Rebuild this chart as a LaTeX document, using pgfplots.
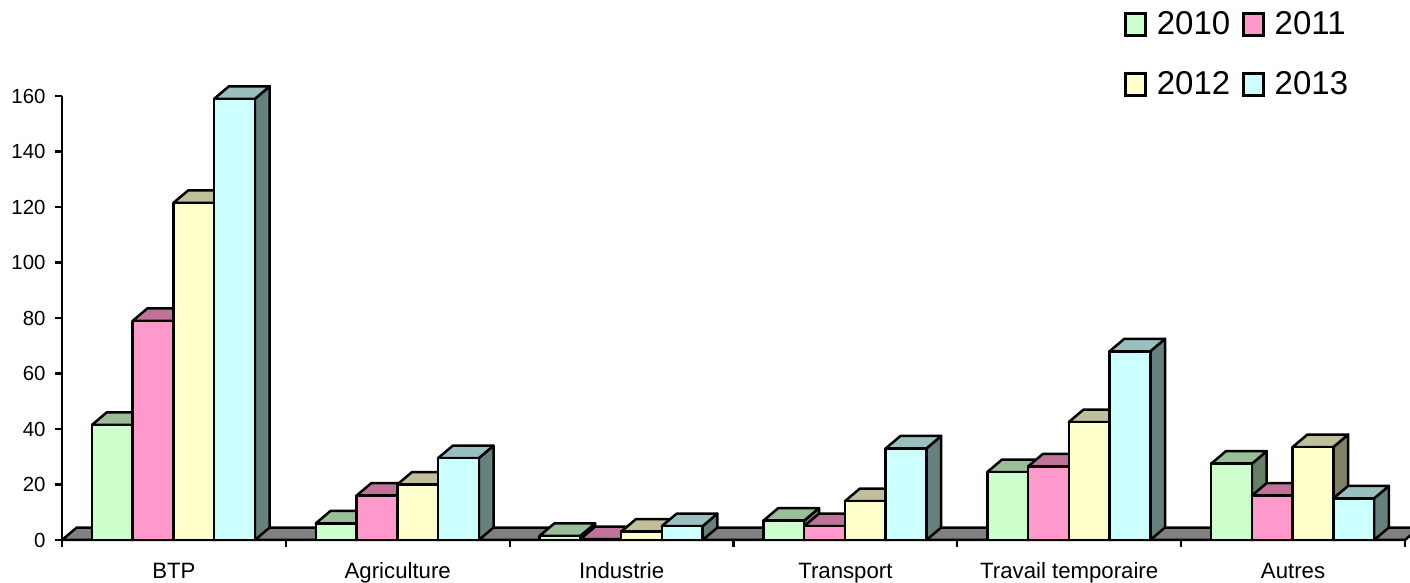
\documentclass[border=0pt]{standalone}
\usepackage{pgfplots}
\pgfplotsset{compat=1.18}
\usepackage{fontspec}
\setmainfont{Liberation Sans}

% Series colours: front face, top face (darkened), side face (darkened further)
\definecolor{s0}{HTML}{CCFFCC}\definecolor{s0top}{HTML}{99BF99}\definecolor{s0side}{HTML}{668066}
\definecolor{s1}{HTML}{FF99CC}\definecolor{s1top}{HTML}{BF7399}\definecolor{s1side}{HTML}{804D66}
\definecolor{s2}{HTML}{FFFFCC}\definecolor{s2top}{HTML}{BFBF99}\definecolor{s2side}{HTML}{808066}
\definecolor{s3}{HTML}{CCFFFF}\definecolor{s3top}{HTML}{99BFBF}\definecolor{s3side}{HTML}{668080}
\definecolor{floorgray}{HTML}{808080}

% Geometry of the extruded columns, in axis units
\def\barw{0.182}  % column width
\def\baroff{0.134}% gap before the first column of a category
\def\depx{0.066}  % horizontal depth offset
\def\depy{4.5}    % vertical depth offset

\pgfplotsset{face/.style={forget plot, draw=black, line width=1.25pt, line join=round}}

% Draws one column: side, then top, then front
\newcommand{\drawbar}[3]{% category, series, value
  \pgfmathsetmacro{\xa}{#1+\baroff+#2*\barw}
  \pgfmathsetmacro{\xb}{\xa+\barw}
  \pgfmathsetmacro{\xc}{\xa+\depx}
  \pgfmathsetmacro{\xd}{\xb+\depx}
  \pgfmathsetmacro{\yt}{#3+\depy}
  \edef\temp{\noexpand\addplot[face, fill=s#2side] coordinates {(\xb,0) (\xb,#3) (\xd,\yt) (\xd,\depy)} --cycle;
    \noexpand\addplot[face, fill=s#2top] coordinates {(\xa,#3) (\xb,#3) (\xd,\yt) (\xc,\yt)} --cycle;
    \noexpand\addplot[face, fill=s#2] coordinates {(\xa,0) (\xb,0) (\xb,#3) (\xa,#3)} --cycle;}
  \temp
}
\newcommand{\drawgroup}[5]{% category, then the values of 2010 to 2013
  \drawbar{#1}{0}{#2}\drawbar{#1}{1}{#3}\drawbar{#1}{2}{#4}\drawbar{#1}{3}{#5}
}

\begin{document}
\begin{tikzpicture}
\path[use as bounding box] (-31pt,-21.5pt) rectangle (674pt,270pt);
\begin{axis}[
  anchor=origin, at={(0pt,0pt)},
  scale only axis, width=671.5pt, height=222pt,
  xmin=0, xmax=6, ymin=0, ymax=160,
  clip=false,
  axis x line*=bottom, axis y line*=left,
  axis line style={-, line width=1.1pt, black},
  every tick/.style={black, line width=1.1pt},
  tick align=outside, major tick length=3.5pt,
  xtick={0,1,2,3,4,5,6}, xticklabels={},
  extra x ticks={0.5,1.5,2.5,3.5,4.5,5.5},
  extra x tick labels={BTP,Agriculture,Industrie,Transport,Travail temporaire,Autres},
  extra x tick style={major tick length=0pt, tick style={draw=none}},
  xticklabel style={font=\fontsize{11.1}{13}\selectfont, text height=8.2pt, text depth=2.5pt, yshift=-7.5pt},
  ytick={0,20,40,60,80,100,120,140,160},
  yticklabel style={font=\fontsize{10.2}{12}\selectfont, /pgf/number format/assume math mode=true, xshift=-1.2pt},
  legend columns=2,
  legend cell align=left,
  legend style={draw=none, fill=none, at={(0.791,1.199)}, anchor=north west,
    font=\fontsize{16.5}{18}\selectfont, inner sep=0pt, outer sep=0pt,
    /tikz/every odd column/.append style={column sep=3pt},
    /tikz/every even column/.append style={column sep=4pt},
    row sep=13pt},
  legend image code/.code={\draw[#1] (0pt,-5.5pt) rectangle (10pt,5.5pt);},
]
\addlegendimage{fill=s0, draw=black, line width=1.25pt}\addlegendentry{2010}
\addlegendimage{fill=s1, draw=black, line width=1.25pt}\addlegendentry{2011}
\addlegendimage{fill=s2, draw=black, line width=1.25pt}\addlegendentry{2012}
\addlegendimage{fill=s3, draw=black, line width=1.25pt}\addlegendentry{2013}

% Floor of the chart
\addplot[face, fill=floorgray] coordinates {(0,0) (6,0) (6.066,4.5) (0.066,4.5)} --cycle;

\drawgroup{0}{41.5}{79}{121.5}{159}
\drawgroup{1}{6}{16}{20}{29.5}
\drawgroup{2}{1.5}{0.3}{3}{5}
\drawgroup{3}{7}{5}{14}{33}
\drawgroup{4}{24.5}{26.5}{42.5}{68}
\drawgroup{5}{27.5}{16}{33.5}{15}
\end{axis}
\end{tikzpicture}
\end{document}
